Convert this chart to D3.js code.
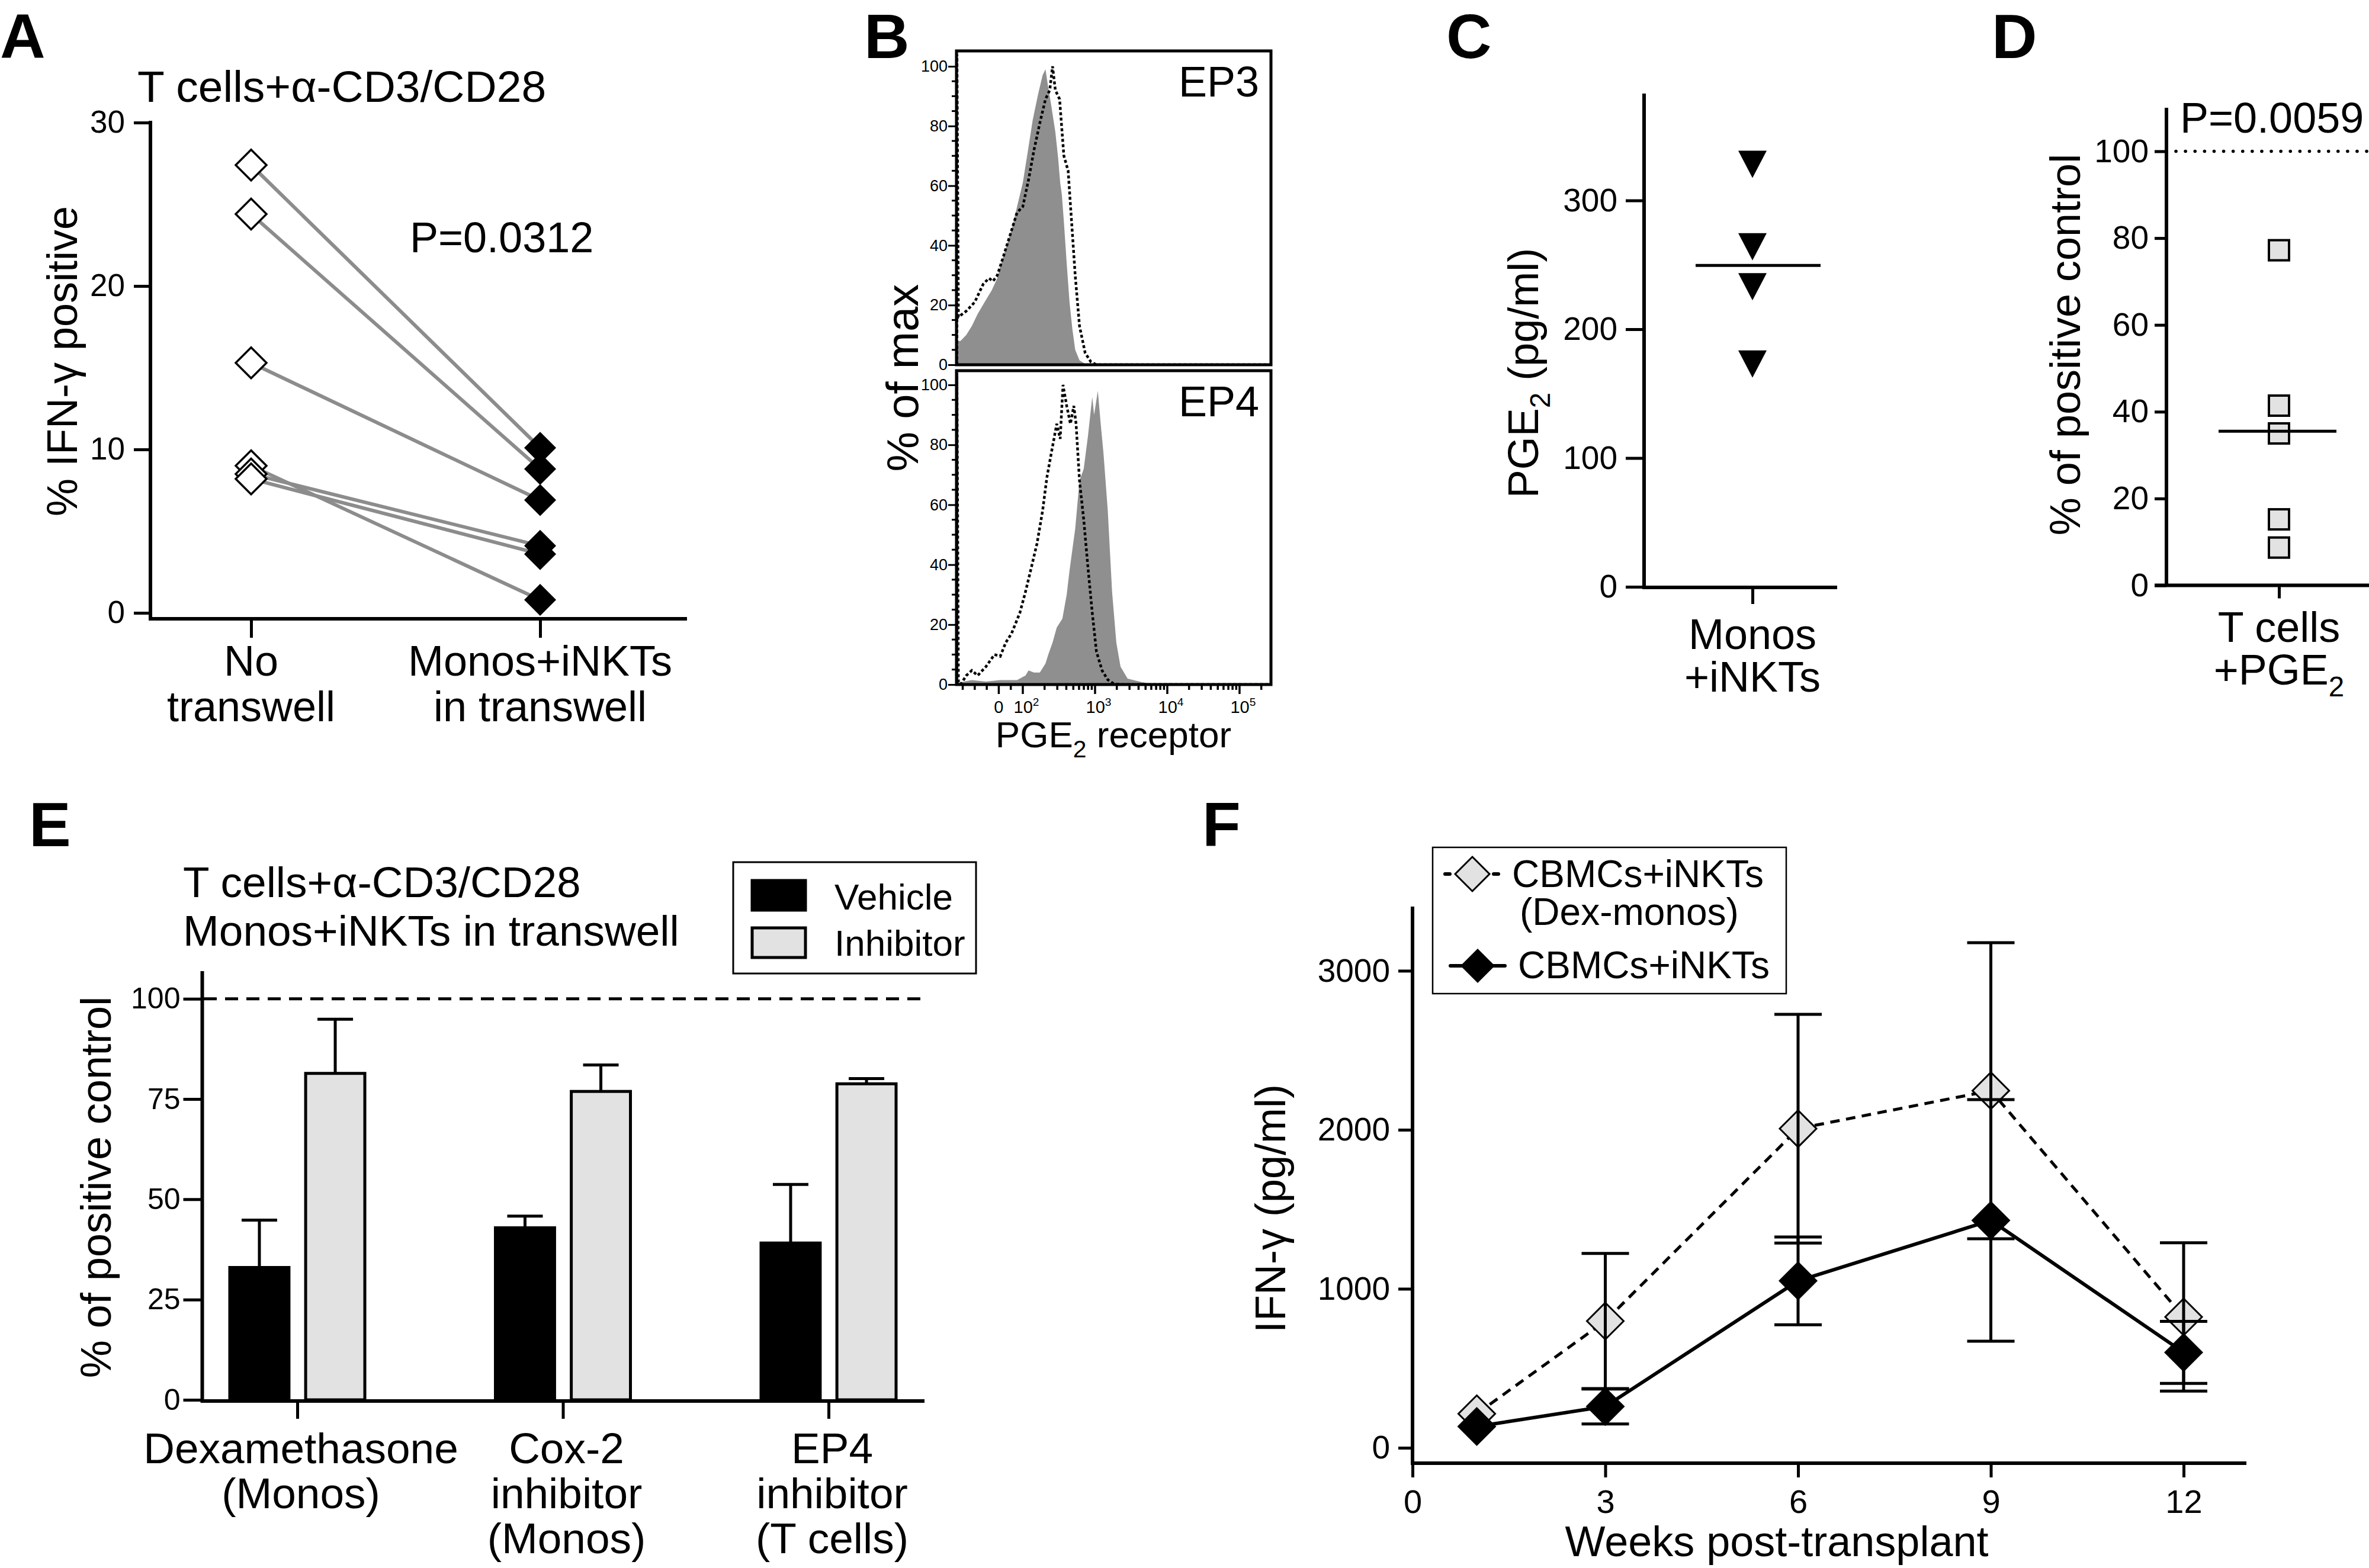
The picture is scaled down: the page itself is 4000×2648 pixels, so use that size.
<!DOCTYPE html>
<html><head><meta charset="utf-8">
<script src="https://cdn.jsdelivr.net/npm/d3@7"></script>
<style>html,body{margin:0;padding:0;background:#fff}</style>
</head><body>
<svg id="fig" width="4000" height="2648"></svg>
<script>
// ================= DATA =================
// Panel A
const aCategories = ["No\ntranswell", "Monos+iNKTs\nin transwell"];
const aNoTranswell = [27.4, 24.4, 15.3, 9.0, 8.5, 8.2];
const aInTranswell = [10.1, 8.8, 6.9, 0.8, 4.1, 3.6];
const aTicks = [0, 10, 20, 30];
const aTitle = "T cells+α-CD3/CD28";
const aPValue = "P=0.0312";
const aYLabel = "% IFN-γ positive";

// Panel B : histograms [fluorescence intensity, % of max]
const bEP3Stained = [[-176,8],[-159,8],[-135,10],[-112,13],[-88,17],[-59,21],[-29,25],[-6,29],[6,33],[29,39],[59,47],[76,53],[100,61],[120,73],[137,82],[164,91],[188,97],[206,99],[221,94],[247,87],[282,78],[309,69],[329,61],[347,57],[370,48],[405,34],[443,21],[485,12],[531,5],[609,1.5],[729,0.3],[1045,0],[262144,0]];
const bEP3Control = [[-174,0],[-174,104],[-168,16],[-135,18],[-100,21],[-65,27],[-41,29],[-24,28],[-6,30],[18,36],[53,45],[76,51],[100,53],[120,62],[143,72],[172,81],[206,89],[236,92],[258,100],[282,92],[323,89],[370,70],[424,65],[464,51],[531,30],[609,13],[729,4],[874,1],[1045,0],[262144,0]];
const bEP4Stained = [[-176,0.5],[-112,1.5],[-53,1],[6,1.5],[76,1.5],[109,3],[120,4.7],[143,4],[172,4],[206,7],[225,10],[258,14],[295,19],[353,22],[405,30],[443,38],[485,45],[531,52],[609,68],[697,72],[798,83],[914,96],[970,90],[1093,98],[1197,87],[1310,77],[1500,58],[1720,31],[1970,14],[2250,6],[2820,2],[4440,0.8],[6960,0],[262144,0]];
const bEP4Control = [[-174,0],[-174,104],[-168,1],[-159,0],[-135,3],[-112,4.7],[-88,3],[-53,6],[-18,10],[6,9.4],[29,14],[53,17],[88,24],[109,31],[131,39],[157,47],[188,58],[215,69],[247,77],[295,87],[329,82],[360,100],[405,93],[456,87],[508,93],[546,87],[609,68],[697,55],[798,39],[914,24],[1045,11],[1250,4.7],[1500,1.6],[1800,0.3],[2200,0],[262144,0]];
const bYTicks = [0, 20, 40, 60, 80, 100];
const bXTicks = [0, 100, 1000, 10000, 100000];
const bXLabels = [["0"], ["10","2"], ["10","3"], ["10","4"], ["10","5"]];
const bPanels = ["EP3", "EP4"];

// Panel C
const cCategory = "Monos\n+iNKTs";
const cValues = [328, 264, 233, 173];
const cTicks = [0, 100, 200, 300];

// Panel D
const dCategory = "T cells\n+PGE_{2}";
const dValues = [77.2, 41.4, 35.0, 15.2, 8.7];
const dTicks = [0, 20, 40, 60, 80, 100];
const dPValue = "P=0.0059";
const dReference = 100;

// Panel E
const eGroups = ["Dexamethasone\n(Monos)", "Cox-2\ninhibitor\n(Monos)", "EP4\ninhibitor\n(T cells)"];
const eSeries = ["Vehicle", "Inhibitor"];
const eVehicle = [33.0, 42.9, 39.1];
const eVehicleErr = [11.8, 2.9, 14.6];
const eInhibitor = [81.4, 76.9, 78.8];
const eInhibitorErr = [13.5, 6.6, 1.3];
const eTicks = [0, 25, 50, 75, 100];
const eTitle = ["T cells+α-CD3/CD28", "Monos+iNKTs in transwell"];
const eReference = 100;

// Panel F
const fWeeks = [1, 3, 6, 9, 12];
const fDexMonos = [214, 797, 2007, 2246, 823];
const fDexMonosSD = [0, 425, 719, 931, 466];
const fCBMC = [134, 260, 1050, 1430, 600];
const fCBMCSD = [0, 110, 276, 760, 195];
const fYTicks = [0, 1000, 2000, 3000];
const fXTicks = [0, 3, 6, 9, 12];
const fSeriesNames = ["CBMCs+iNKTs\n(Dex-monos)", "CBMCs+iNKTs"];

// ================= DRAWING =================
const FONT = "'Liberation Sans', Arial, Helvetica, sans-serif";
const svg = d3.select("#fig");
svg.append("rect").attr("width", 4000).attr("height", 2648).attr("fill", "#fff");
const LIGHT = "#e2e2e2", HIST = "#8f8f8f", AGRAY = "#8c8c8c";

function parseParts(s) {
  return s.split(/(_\{[^}]*\}|\^\{[^}]*\})/).filter(p => p.length).map(p => {
    if (p.startsWith("_{")) return [p.slice(2, -1), "sub"];
    if (p.startsWith("^{")) return [p.slice(2, -1), "sup"];
    return [p, null];
  });
}
function label(parent, x, y, s, size, opt = {}) {
  const t = parent.append("text").attr("x", x).attr("y", y)
    .attr("font-family", FONT).attr("font-size", size)
    .attr("text-anchor", opt.anchor || "start")
    .attr("font-weight", opt.weight || "normal").attr("fill", "#000");
  if (opt.rotate) t.attr("transform", `rotate(${opt.rotate},${x},${y})`);
  const parts = Array.isArray(s) ? s : parseParts(s);
  let shift = 0;
  parts.forEach(([str, mode]) => {
    const sp = t.append("tspan").text(str);
    const target = mode === "sub" ? 0.28 : mode === "sup" ? -0.42 : 0;
    sp.attr("font-size", mode ? size * 0.66 : size);
    const dy = (target - shift) * size;
    if (dy !== 0) sp.attr("dy", dy);
    shift = target;
  });
  return t;
}
function multiline(parent, x, y, s, size, lh, anchor = "middle") {
  s.split("\n").forEach((line, i) => label(parent, x, y + i * lh, line, size, { anchor }));
}
function styleAxis(g, font, sw) {
  g.select(".domain").remove();
  g.selectAll(".tick line").attr("stroke", "#000").attr("stroke-width", sw);
  g.selectAll(".tick text").attr("font-size", font).attr("font-family", FONT).attr("fill", "#000");
}
function hline(parent, x1, x2, y, sw, dash) {
  const l = parent.append("line").attr("x1", x1).attr("x2", x2).attr("y1", y).attr("y2", y)
    .attr("stroke", "#000").attr("stroke-width", sw);
  if (dash) l.attr("stroke-dasharray", dash);
  return l;
}
function vline(parent, x, y1, y2, sw) {
  return parent.append("line").attr("x1", x).attr("x2", x).attr("y1", y1).attr("y2", y2)
    .attr("stroke", "#000").attr("stroke-width", sw);
}
const diamond = r => `M0,${-r}L${r},0L0,${r}L${-r},0Z`;

// Panel letters
[["A", 0, 98], ["B", 1459, 98], ["C", 2442, 98], ["D", 3363, 98], ["E", 49, 1429], ["F", 2030, 1429]]
  .forEach(([s, x, y]) => label(svg, x, y, s, 106, { weight: "bold" }));

// ---------- Panel A ----------
{
  const g = svg.append("g");
  const x = d3.scalePoint().domain(aCategories).range([424, 912]);
  const y = d3.scaleLinear().domain([0, 30]).range([1035, 207]);
  vline(g, 254, 204, 1048, 6);
  hline(g, 251, 1160, 1045, 6);
  const ya = g.append("g").attr("transform", "translate(254,0)")
    .call(d3.axisLeft(y).tickValues(aTicks).tickSize(28).tickPadding(15));
  styleAxis(ya, 53, 5);
  const xa = g.append("g").attr("transform", "translate(0,1045)")
    .call(d3.axisBottom(x).tickSize(32).tickFormat(""));
  styleAxis(xa, 53, 5);
  aCategories.forEach(c => multiline(g, x(c), 1141, c, 72, 77));
  label(g, 232, 172, aTitle, 75);
  label(g, 692, 426, aPValue, 72);
  label(g, 130, 610, aYLabel, 72, { anchor: "middle", rotate: -90 });
  aNoTranswell.forEach((v, i) => {
    g.append("line").attr("x1", x(aCategories[0])).attr("y1", y(v))
      .attr("x2", x(aCategories[1])).attr("y2", y(aInTranswell[i]))
      .attr("stroke", AGRAY).attr("stroke-width", 6);
  });
  g.selectAll(".open").data(aNoTranswell).join("path")
    .attr("d", diamond(26)).attr("transform", d => `translate(${x(aCategories[0])},${y(d)})`)
    .attr("fill", "#fff").attr("stroke", "#000").attr("stroke-width", 3.5);
  g.selectAll(".filled").data(aInTranswell).join("path")
    .attr("d", diamond(27)).attr("transform", d => `translate(${x(aCategories[1])},${y(d)})`)
    .attr("fill", "#000");
}

// ---------- Panel B ----------
{
  const g = svg.append("g");
  const L = 1615, R = 2146;
  const tB = v => v <= 100 ? v / 100 : 1 + Math.log10(v / 100);
  const lin = d3.scaleLinear().domain([tB(-176), 1, tB(262144)]).range([L, 1727, 2144]);
  const xB = v => lin(tB(v));
  const boxes = [
    { name: bPanels[0], top: 86, bottom: 616, y: d3.scaleLinear().domain([0, 100]).range([616, 112]), stained: bEP3Stained, control: bEP3Control },
    { name: bPanels[1], top: 626, bottom: 1156, y: d3.scaleLinear().domain([0, 100]).range([1156, 650]), stained: bEP4Stained, control: bEP4Control }
  ];
  boxes.forEach((b, i) => {
    const cid = "clipB" + i;
    svg.append("clipPath").attr("id", cid).append("rect")
      .attr("x", L).attr("y", b.top).attr("width", R - L).attr("height", b.bottom - b.top);
    const inner = g.append("g").attr("clip-path", `url(#${cid})`);
    inner.append("path").datum(b.stained)
      .attr("d", d3.area().x(d => xB(d[0])).y0(b.y(0)).y1(d => b.y(d[1])))
      .attr("fill", HIST);
    inner.append("path").datum(b.control)
      .attr("d", d3.line().x(d => xB(d[0])).y(d => b.y(d[1])))
      .attr("fill", "none").attr("stroke", "#000").attr("stroke-width", 4.5)
      .attr("stroke-dasharray", "5 4");
    g.append("rect").attr("x", L).attr("y", b.top).attr("width", R - L).attr("height", b.bottom - b.top)
      .attr("fill", "none").attr("stroke", "#000").attr("stroke-width", 5);
    const ya = g.append("g").attr("transform", `translate(${L},0)`)
      .call(d3.axisLeft(b.y).tickValues(bYTicks).tickSize(14).tickPadding(1));
    styleAxis(ya, 27, 3);
    g.selectAll(null).data(d3.range(5, 100, 5).filter(v => v % 20 !== 0)).join("line")
      .attr("x1", L - 8).attr("x2", L).attr("y1", d => b.y(d)).attr("y2", d => b.y(d))
      .attr("stroke", "#000").attr("stroke-width", 3);
    label(g, R - 20, b.top + 77, b.name, 72, { anchor: "end" });
  });
  const bot = boxes[1].bottom;
  const minor = [-150, -100, -50, 50].concat(
    d3.range(2, 10).map(k => k * 100), d3.range(2, 10).map(k => k * 1000),
    d3.range(2, 10).map(k => k * 10000), [200000]);
  g.selectAll(null).data(minor).join("line")
    .attr("x1", d => xB(d)).attr("x2", d => xB(d)).attr("y1", bot).attr("y2", bot + 9)
    .attr("stroke", "#000").attr("stroke-width", 3.5);
  g.selectAll(null).data(bXTicks).join("line")
    .attr("x1", d => xB(d)).attr("x2", d => xB(d)).attr("y1", bot).attr("y2", bot + 16)
    .attr("stroke", "#000").attr("stroke-width", 3.5);
  bXTicks.forEach((v, i) => {
    const p = bXLabels[i];
    const parts = p.length > 1 ? [[p[0], null], [p[1], "sup"]] : [[p[0], null]];
    label(g, xB(v) + (p.length > 1 ? 6 : 0), 1204, parts, 29, { anchor: "middle" });
  });
  label(g, 1880, 1262, "PGE_{2} receptor", 62, { anchor: "middle" });
  label(g, 1550, 638, "% of max", 76, { anchor: "middle", rotate: -90 });
}

// ---------- Panel C ----------
{
  const g = svg.append("g");
  const x = d3.scalePoint().domain([cCategory]).range([2959, 2959]);
  const y = d3.scaleLinear().domain([0, 383]).range([991, 158]);
  vline(g, 2776, 158, 995, 6);
  hline(g, 2773, 3102, 992, 6);
  const ya = g.append("g").attr("transform", "translate(2776,0)")
    .call(d3.axisLeft(y).tickValues(cTicks).tickSize(31).tickPadding(14));
  styleAxis(ya, 55, 5);
  const xa = g.append("g").attr("transform", "translate(0,992)")
    .call(d3.axisBottom(x).tickSize(28).tickFormat(""));
  styleAxis(xa, 55, 5);
  multiline(g, x(cCategory), 1096, cCategory, 72, 72);
  label(g, 2597, 630, "PGE_{2} (pg/ml)", 72, { anchor: "middle", rotate: -90 });
  g.selectAll(".tri").data(cValues).join("path")
    .attr("d", "M-24,-23L24,-23L0,23Z")
    .attr("transform", d => `translate(${x(cCategory)},${y(d)})`).attr("fill", "#000");
  hline(g, 2863, 3074, y(d3.mean(cValues)), 5);
}

// ---------- Panel D ----------
{
  const g = svg.append("g");
  const x = d3.scalePoint().domain([dCategory]).range([3848, 3848]);
  const y = d3.scaleLinear().domain([0, 110]).range([988.5, 182.2]);
  vline(g, 3658, 182, 991, 6);
  hline(g, 3638, 4000, 988.5, 6);
  const ya = g.append("g").attr("transform", "translate(3658,0)")
    .call(d3.axisLeft(y).tickValues(dTicks).tickSize(20).tickPadding(10));
  styleAxis(ya, 55, 5);
  const xa = g.append("g").attr("transform", "translate(0,988.5)")
    .call(d3.axisBottom(x).tickSize(22).tickFormat(""));
  styleAxis(xa, 55, 5);
  hline(g, 3674, 4000, y(dReference), 5.5, "0.1 16").attr("stroke-linecap", "round");
  label(g, 3681, 224, dPValue, 72);
  multiline(g, x(dCategory), 1084, dCategory, 72, 72);
  label(g, 3512, 582, "% of positive control", 72, { anchor: "middle", rotate: -90 });
  g.selectAll(".sq").data(dValues).join("rect")
    .attr("x", x(dCategory) - 17).attr("y", d => y(d) - 17).attr("width", 34).attr("height", 34)
    .attr("fill", LIGHT).attr("stroke", "#000").attr("stroke-width", 4);
  hline(g, 3746, 3945, y(d3.mean(dValues)), 5);
}

// ---------- Panel E ----------
{
  const g = svg.append("g");
  const x = d3.scalePoint().domain(eGroups).range([502, 1399]);
  const xin = d3.scaleBand().domain(eSeries).range([-114, 114]).paddingInner(0.22);
  const y = d3.scaleLinear().domain([0, 106.9]).range([2364, 1640]);
  const color = d3.scaleOrdinal().domain(eSeries).range(["#000", LIGHT]);
  hline(g, 344, 1567, y(eReference), 5, "22 14");
  const rows = [];
  eGroups.forEach((grp, i) => {
    rows.push({ grp, s: eSeries[0], v: eVehicle[i], e: eVehicleErr[i] });
    rows.push({ grp, s: eSeries[1], v: eInhibitor[i], e: eInhibitorErr[i] });
  });
  rows.forEach(r => {
    const cx = x(r.grp) + xin(r.s) + xin.bandwidth() / 2;
    vline(g, cx, y(r.v), y(r.v + r.e), 5);
    hline(g, cx - 30, cx + 30, y(r.v + r.e), 5);
  });
  g.selectAll(".bar").data(rows).join("rect")
    .attr("x", d => x(d.grp) + xin(d.s)).attr("y", d => y(d.v))
    .attr("width", xin.bandwidth()).attr("height", d => y(0) - y(d.v))
    .attr("fill", d => color(d.s)).attr("stroke", "#000").attr("stroke-width", 5);
  vline(g, 341.5, 1640, 2369, 6);
  hline(g, 339, 1561, 2366, 6);
  const ya = g.append("g").attr("transform", "translate(341.5,0)")
    .call(d3.axisLeft(y).tickValues(eTicks).tickSize(32).tickPadding(5));
  styleAxis(ya, 50, 5);
  const xa = g.append("g").attr("transform", "translate(0,2366)")
    .call(d3.axisBottom(x).tickSize(30).tickFormat(""));
  styleAxis(xa, 50, 5);
  eGroups.forEach(grp => multiline(g, x(grp) + 6, 2471, grp, 73, 76));
  eTitle.forEach((t, i) => label(g, 309, 1515 + i * 82, t, 73));
  label(g, 187, 2005, "% of positive control", 72, { anchor: "middle", rotate: -90 });
  // legend
  g.append("rect").attr("x", 1238).attr("y", 1456).attr("width", 410).attr("height", 188)
    .attr("fill", "#fff").attr("stroke", "#000").attr("stroke-width", 3);
  eSeries.forEach((s, i) => {
    g.append("rect").attr("x", 1270).attr("y", 1487 + i * 80).attr("width", 90).attr("height", 50)
      .attr("fill", color(s)).attr("stroke", "#000").attr("stroke-width", 5);
    label(g, 1409, 1536 + i * 78, s, 62);
  });
}

// ---------- Panel F ----------
{
  const g = svg.append("g");
  const x = d3.scaleLinear().domain([0, 13]).range([2385, 3795.5]);
  const y = d3.scaleLinear().domain([0, 3400]).range([2445, 1532]);
  vline(g, 2385, 1531, 2474, 6);
  hline(g, 2382, 3793, 2471, 6);
  const ya = g.append("g").attr("transform", "translate(2385,0)")
    .call(d3.axisLeft(y).tickValues(fYTicks).tickFormat(d3.format("d")).tickSize(24).tickPadding(14));
  styleAxis(ya, 55, 5);
  const xa = g.append("g").attr("transform", "translate(0,2471)")
    .call(d3.axisBottom(x).tickValues(fXTicks).tickFormat(d3.format("d")).tickSize(24).tickPadding(20));
  styleAxis(xa, 56, 5);
  label(g, 3000, 2628, "Weeks post-transplant", 72, { anchor: "middle" });
  label(g, 2170, 2041, "IFN-γ (pg/ml)", 72, { anchor: "middle", rotate: -90 });
  const dex = fWeeks.map((w, i) => ({ w, v: fDexMonos[i], sd: fDexMonosSD[i] }));
  const cb = fWeeks.map((w, i) => ({ w, v: fCBMC[i], sd: fCBMCSD[i] }));
  const line = d3.line().x(d => x(d.w)).y(d => y(d.v));
  g.append("path").datum(cb).attr("d", line).attr("fill", "none")
    .attr("stroke", "#000").attr("stroke-width", 6);
  g.append("path").datum(dex).attr("d", line).attr("fill", "none")
    .attr("stroke", "#000").attr("stroke-width", 5).attr("stroke-dasharray", "16 11");
  g.selectAll(".dd").data(dex).join("path").attr("d", diamond(31))
    .attr("transform", d => `translate(${x(d.w)},${y(d.v)})`)
    .attr("fill", LIGHT).attr("stroke", "#000").attr("stroke-width", 3);
  [dex, cb].forEach(series => series.filter(d => d.sd > 0).forEach(d => {
    const cx = x(d.w);
    vline(g, cx, y(d.v - d.sd), y(d.v + d.sd), 5);
    hline(g, cx - 40, cx + 40, y(d.v - d.sd), 5);
    hline(g, cx - 40, cx + 40, y(d.v + d.sd), 5);
  }));
  g.selectAll(".cd").data(cb).join("path").attr("d", diamond(33))
    .attr("transform", d => `translate(${x(d.w)},${y(d.v)})`).attr("fill", "#000");
  // legend
  g.append("rect").attr("x", 2419).attr("y", 1431).attr("width", 597).attr("height", 247)
    .attr("fill", "#fff").attr("stroke", "#000").attr("stroke-width", 2.5);
  hline(g, 2440, 2532, 1476, 6, "8 74").attr("stroke-linecap", "round");
  g.append("path").attr("d", diamond(29)).attr("transform", "translate(2486,1476)")
    .attr("fill", LIGHT).attr("stroke", "#000").attr("stroke-width", 3);
  hline(g, 2449, 2541, 1631, 6).attr("stroke-linecap", "round");
  g.append("path").attr("d", diamond(29)).attr("transform", "translate(2495,1631)").attr("fill", "#000");
  const n0 = fSeriesNames[0].split("\n");
  label(g, 2553, 1498, n0[0], 64);
  label(g, 2566, 1562, n0[1], 64);
  label(g, 2563, 1652, fSeriesNames[1], 64);
}
</script>
</body></html>
